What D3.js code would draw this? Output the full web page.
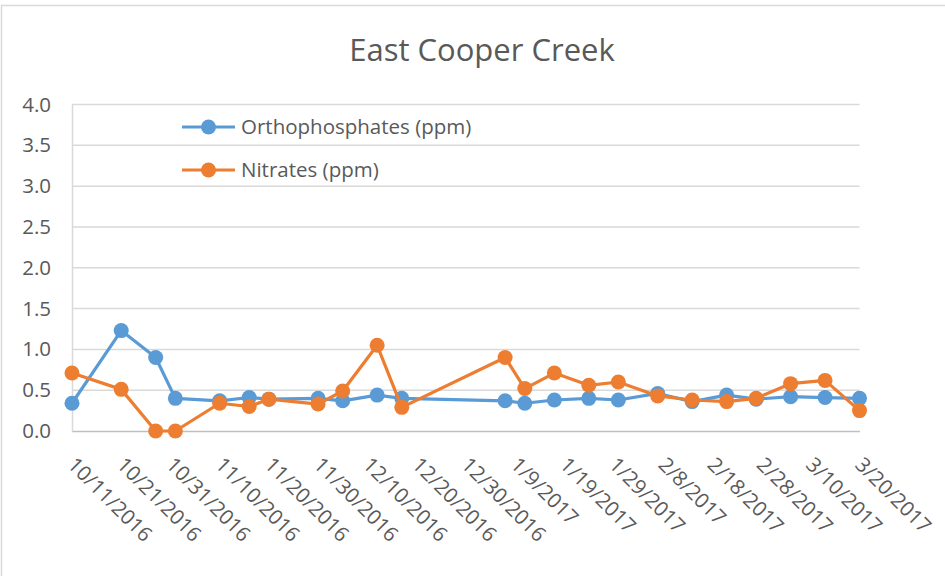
<!DOCTYPE html>
<html>
<head>
<meta charset="utf-8">
<script src="https://cdn.jsdelivr.net/npm/d3@7"></script>
<style>
  body { margin: 0; background: #fff; }
  svg { display: block; font-family: "Open Sans", sans-serif; }
</style>
</head>
<body>
<div id="chart-area"></div>
<script>
// sample dates, shared by both series
const dates = [
    "10/11/2016", "10/21/2016", "10/28/2016", "11/1/2016", "11/10/2016",
    "11/16/2016", "11/20/2016", "11/30/2016", "12/5/2016", "12/12/2016",
    "12/17/2016", "1/7/2017", "1/11/2017", "1/17/2017", "1/24/2017",
    "1/30/2017", "2/7/2017", "2/14/2017", "2/21/2017", "2/27/2017",
    "3/6/2017", "3/13/2017", "3/20/2017"
];
const orthophosphates = [
    0.34, 1.23, 0.90, 0.40, 0.37, 0.41, 0.39, 0.40, 0.37, 0.44,
    0.40, 0.37, 0.34, 0.38, 0.40, 0.38, 0.46, 0.36, 0.44, 0.39,
    0.42, 0.41, 0.40
];
const nitrates = [
    0.71, 0.51, 0.00, 0.00, 0.34, 0.30, 0.39, 0.33, 0.49, 1.05,
    0.29, 0.90, 0.52, 0.71, 0.56, 0.60, 0.43, 0.38, 0.36, 0.40,
    0.58, 0.62, 0.25
];
const xTickLabels = [
    "10/11/2016", "10/21/2016", "10/31/2016", "11/10/2016", "11/20/2016",
    "11/30/2016", "12/10/2016", "12/20/2016", "12/30/2016", "1/9/2017",
    "1/19/2017", "1/29/2017", "2/8/2017", "2/18/2017", "2/28/2017",
    "3/10/2017", "3/20/2017"
];
const yTicks = [0, 0.5, 1, 1.5, 2, 2.5, 3, 3.5, 4];
const seriesNames = ["Orthophosphates (ppm)", "Nitrates (ppm)"];
const seriesColors = ["#5B9BD5", "#ED7D31"];

const W = 945, H = 576;
const margin = { left: 72, right: 85.5, top: 104.5, bottom: 145 },
    width = W - margin.left - margin.right,
    height = H - margin.top - margin.bottom;

const parseTime = d3.timeParse("%m/%d/%Y");
const formatTime = d3.timeFormat("%-m/%-d/%Y");
const textColor = "#595959";
const gridColor = "#d9d9d9";
const tickFont = "20.5px";

const svg = d3.select("#chart-area")
    .append("svg")
    .attr("width", W)
    .attr("height", H);

// chart frame
svg.append("rect")
    .attr("x", 1.5).attr("y", 5.5)
    .attr("width", W + 10).attr("height", H + 10)
    .attr("fill", "#fff")
    .attr("stroke", gridColor)
    .attr("stroke-width", 1.5);

svg.append("text")
    .attr("x", 482).attr("y", 61)
    .attr("text-anchor", "middle")
    .attr("font-size", "31px")
    .attr("fill", textColor)
    .text("East Cooper Creek");

const g = svg.append("g")
    .attr("transform", `translate(${margin.left}, ${margin.top})`);

const x = d3.scaleTime()
    .domain([parseTime(xTickLabels[0]), parseTime(xTickLabels[xTickLabels.length - 1])])
    .range([0, width]);
const y = d3.scaleLinear().domain([0, 4]).range([height, 0]);

// gridlines
g.append("g")
    .selectAll("line")
    .data(yTicks.slice(1))
    .enter().append("line")
    .attr("x1", 0).attr("x2", width)
    .attr("y1", d => y(d)).attr("y2", d => y(d))
    .attr("stroke", gridColor)
    .attr("stroke-width", 1.5);

// y axis
const yAxis = g.append("g")
    .call(d3.axisLeft(y).tickValues(yTicks).tickFormat(d3.format(".1f")).tickSize(0).tickPadding(21));
yAxis.select(".domain").attr("stroke", gridColor).attr("stroke-width", 1.5);
yAxis.selectAll("text")
    .attr("font-size", tickFont)
    .attr("font-family", "Open Sans, sans-serif")
    .attr("fill", textColor);

// x axis
const xAxis = g.append("g")
    .attr("transform", "translate(0," + height + ")")
    .call(d3.axisBottom(x)
        .tickValues(xTickLabels.map(parseTime))
        .tickFormat(formatTime)
        .tickSize(0));
xAxis.select(".domain").attr("stroke", "#bfbfbf").attr("stroke-width", 1.5);
xAxis.selectAll("text")
    .attr("x", 0).attr("y", 0).attr("dy", 0)
    .attr("text-anchor", "start")
    .attr("transform", "translate(-6,35) rotate(45)")
    .attr("font-size", tickFont)
    .attr("font-family", "Open Sans, sans-serif")
    .attr("fill", textColor);

// series
const line = d3.line()
    .x(d => x(d.date))
    .y(d => y(d.value));

[orthophosphates, nitrates].forEach((values, i) => {
    const data = dates.map((d, j) => ({ date: parseTime(d), value: values[j] }));
    const s = g.append("g");
    s.append("path")
        .attr("d", line(data))
        .attr("fill", "none")
        .attr("stroke", seriesColors[i])
        .attr("stroke-width", 3.2)
        .attr("stroke-linejoin", "round");
    s.selectAll("circle")
        .data(data)
        .enter().append("circle")
        .attr("cx", d => x(d.date))
        .attr("cy", d => y(d.value))
        .attr("r", 7.5)
        .attr("fill", seriesColors[i]);
});

// legend
const legend = svg.append("g");
seriesNames.forEach((name, i) => {
    const ly = 127 + i * 43;
    legend.append("line")
        .attr("x1", 182).attr("x2", 235)
        .attr("y1", ly).attr("y2", ly)
        .attr("stroke", seriesColors[i])
        .attr("stroke-width", 3.2);
    legend.append("circle")
        .attr("cx", 208.5).attr("cy", ly).attr("r", 7.5)
        .attr("fill", seriesColors[i]);
    legend.append("text")
        .attr("x", 241).attr("y", ly)
        .attr("dy", "0.35em")
        .attr("font-size", tickFont)
        .attr("fill", textColor)
        .text(name);
});
</script>
</body>
</html>
